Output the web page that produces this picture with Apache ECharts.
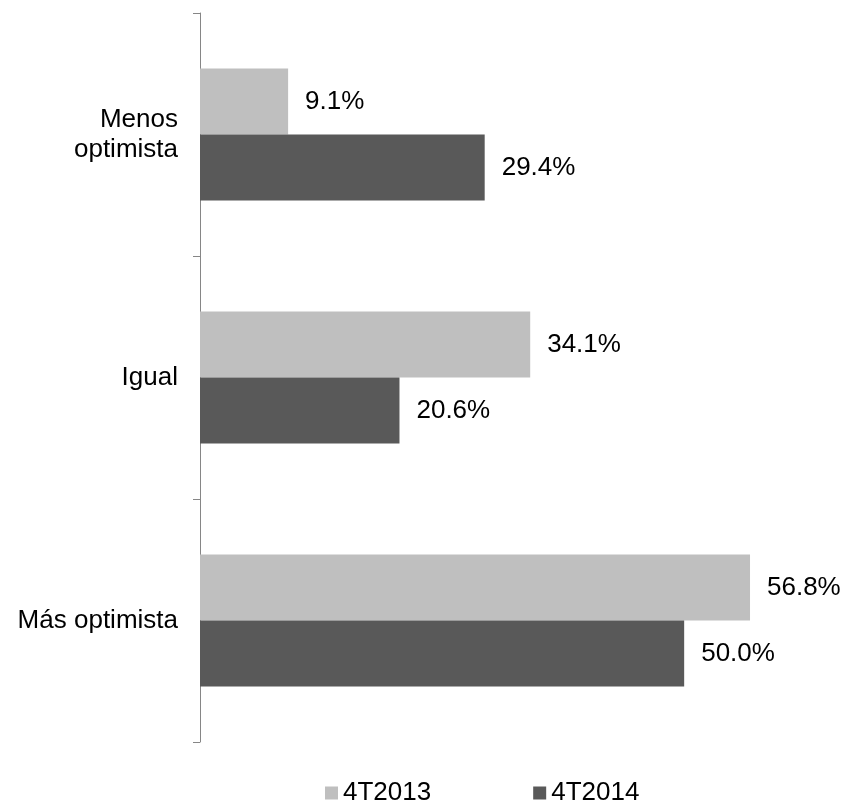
<!DOCTYPE html>
<html>
<head>
<meta charset="utf-8">
<script src="https://cdn.jsdelivr.net/npm/echarts@6/dist/echarts.min.js"></script>
<style>
  html, body { margin: 0; padding: 0; background: #fff; }
  #chart { width: 844px; height: 801px; }
</style>
</head>
<body>
<div id="chart"></div>
<script>
// categories bottom to top
var categories = ["Más optimista", "Igual", "Menos optimista"];
var values2013 = [56.8, 34.1, 9.1];
var values2014 = [50.0, 20.6, 29.4];
var seriesNames = ["4T2013", "4T2014"];

var font = "Liberation Sans, Arial, sans-serif";

var chart = echarts.init(document.getElementById("chart"));

function barLabel() {
  return {
    show: true,
    position: "right",
    distance: 17,
    fontFamily: font,
    fontSize: 26,
    color: "#000",
    formatter: function (p) { return p.value.toFixed(1) + "%"; }
  };
}

chart.setOption({
  animation: false,
  textStyle: { fontFamily: font },
  grid: { left: 200, top: 13, width: 581, height: 729 },
  legend: {
    data: seriesNames,
    left: 320,
    top: 775,
    icon: "rect",
    itemWidth: 13,
    itemHeight: 13,
    itemGap: 102,
    textStyle: { fontFamily: font, fontSize: 26, color: "#000" }
  },
  xAxis: {
    type: "value",
    min: 0,
    max: 60,
    show: false
  },
  yAxis: {
    type: "category",
    data: categories,
    axisLine: { show: true, lineStyle: { color: "#868686", width: 1 } },
    axisTick: { show: true, length: 7, lineStyle: { color: "#868686" } },
    axisLabel: {
      margin: 22,
      fontFamily: font,
      fontSize: 26,
      lineHeight: 30,
      color: "#000",
      formatter: function (v) { return v === "Menos optimista" ? "Menos\noptimista" : v; }
    }
  },
  series: [
    {
      name: seriesNames[0],
      type: "bar",
      data: values2013,
      barWidth: 66,
      barGap: "0%",
      itemStyle: { color: "#bfbfbf" },
      label: barLabel()
    },
    {
      name: seriesNames[1],
      type: "bar",
      data: values2014,
      barWidth: 66,
      barGap: "0%",
      itemStyle: { color: "#595959" },
      label: barLabel()
    }
  ]
});

window.onresize = function () { chart.resize(); };
</script>
</body>
</html>
